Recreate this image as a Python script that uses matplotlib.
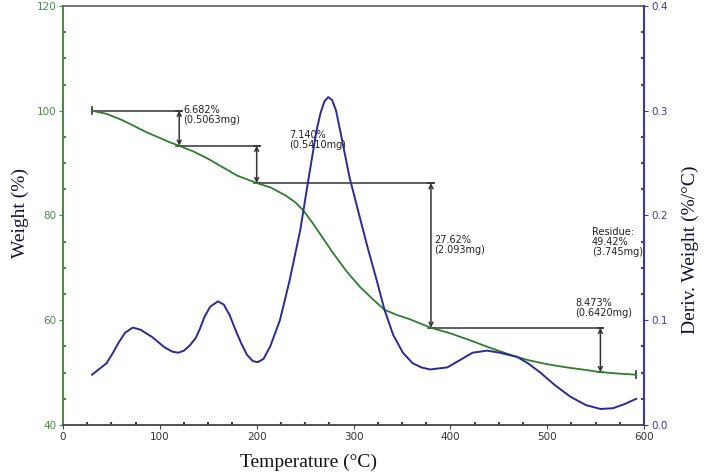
import matplotlib
matplotlib.use("Agg")
import matplotlib.pyplot as plt
from matplotlib.ticker import MultipleLocator, FormatStrFormatter

# ---- data ----
temp_w = [30, 45, 60, 70, 85, 100, 110, 120, 135, 150, 165, 180, 190, 200, 215, 230, 240, 248,
          258, 268, 279, 293, 307, 320, 332, 345, 358, 370, 380, 400, 420, 440, 462, 480, 500,
          520, 540, 555, 575, 592]
weight = [100.0, 99.4, 98.3, 97.4, 96.0, 94.8, 94.0, 93.3, 92.2, 90.8, 89.2, 87.6, 86.9, 86.2,
          85.3, 83.8, 82.5, 81.0, 78.5, 75.8, 72.8, 69.3, 66.3, 64.0, 62.0, 61.0, 60.2, 59.3,
          58.56, 57.5, 56.2, 54.8, 53.4, 52.4, 51.6, 51.0, 50.5, 50.09, 49.8, 49.6]

temp_d = [30, 45, 51, 57, 64, 72, 80, 92, 105, 113, 119, 125, 131, 137, 141, 146, 152, 160, 166,
          172, 178, 184, 190, 196, 201, 207, 214, 224, 234, 245, 253, 262, 266, 270, 274, 278,
          282, 286, 291, 296, 306, 315, 324, 332, 341, 351, 361, 370, 379, 397, 410, 423, 438,
          451, 469, 480, 493, 508, 524, 540, 555, 568, 580, 592]
deriv = [0.048, 0.059, 0.068, 0.078, 0.088, 0.093, 0.091, 0.084, 0.074, 0.070, 0.069, 0.071,
         0.076, 0.083, 0.091, 0.103, 0.113, 0.118, 0.115, 0.105, 0.091, 0.078, 0.067, 0.061,
         0.060, 0.063, 0.075, 0.100, 0.138, 0.186, 0.232, 0.282, 0.298, 0.309, 0.313, 0.310,
         0.300, 0.282, 0.259, 0.236, 0.200, 0.168, 0.138, 0.110, 0.086, 0.069, 0.059, 0.055,
         0.053, 0.055, 0.062, 0.069, 0.071, 0.069, 0.065, 0.059, 0.050, 0.038, 0.027, 0.019,
         0.0153, 0.016, 0.020, 0.025]

# step annotations
step_start = [30, 120, 200, 380]
step_end = [120, 200, 380, 555]
step_top = [100.0, 93.32, 86.18, 58.56]
step_bottom = [93.32, 86.18, 58.56, 50.09]
step_labels = ["6.682%\n(0.5063mg)", "7.140%\n(0.5410mg)", "27.62%\n(2.093mg)", "8.473%\n(0.6420mg)"]
residue_label = "Residue:\n49.42%\n(3.745mg)"

green = "#2f7d2f"
blue = "#2a2a9a"
axis_green = "#4a8a4a"
axis_blue = "#3a3aa0"

fig = plt.figure(figsize=(7.09, 4.74), dpi=100)
ax = fig.add_axes([0.0889, 0.1034, 0.8194, 0.8840])
ax2 = ax.twinx()

ax.plot(temp_w, weight, color=green, lw=1.3, zorder=3)
ax2.plot(temp_d, deriv, color=blue, lw=1.4, zorder=3)

ax.set_xlim(0, 600)
ax.set_ylim(40, 120)
ax2.set_ylim(0, 0.4)

# annotations
lc = "#333333"
ax.plot([step_start[0]] * 2, [step_top[0] - 0.7, step_top[0] + 0.7], color=lc, lw=1.2)
ax.plot([temp_w[-1]] * 2, [weight[-1] - 0.7, weight[-1] + 0.7], color=lc, lw=1.2)
offsets = [(4, 1.0), (34, 3.0), (3, -10.0), (-26, 5.7)]
for s, e, t, b, lab, off in zip(step_start, step_end, step_top, step_bottom, step_labels, offsets):
    ax.plot([s, e + 3], [t, t], color=lc, lw=1.1, zorder=2)
    ax.annotate("", xy=(e, b), xytext=(e, t),
                arrowprops=dict(arrowstyle="<->", color=lc, lw=1.1,
                                shrinkA=0, shrinkB=0, mutation_scale=7))
    ax.plot([e - 3, e + 3], [t, t], color=lc, lw=1.1)
    ax.plot([e - 3, e + 3], [b, b], color=lc, lw=1.1)
    ax.text(e + off[0], t + off[1], lab, fontsize=7, color="#222222", va="top", ha="left",
            linespacing=1.0)
ax.text(546, 77.8, residue_label, fontsize=7, color="#222222", va="top", ha="left",
        linespacing=1.0)

# spines & ticks
ax.spines["left"].set_color(axis_green)
ax.spines["left"].set_linewidth(1.5)
ax.spines["bottom"].set_color("#444444")
ax.spines["top"].set_color("#666666")
ax.spines["bottom"].set_linewidth(1.3)
ax.spines["top"].set_linewidth(1.3)
for sp in ["left", "bottom", "top"]:
    ax2.spines[sp].set_visible(False)
ax2.spines["right"].set_color(axis_blue)
ax2.spines["right"].set_linewidth(1.5)
ax.spines["right"].set_visible(False)

ax.xaxis.set_major_locator(MultipleLocator(100))
ax.xaxis.set_minor_locator(MultipleLocator(25))
ax.yaxis.set_major_locator(MultipleLocator(20))
ax.yaxis.set_minor_locator(MultipleLocator(5))
ax2.yaxis.set_major_locator(MultipleLocator(0.1))
ax2.yaxis.set_minor_locator(MultipleLocator(0.025))

ax.tick_params(axis="x", which="major", direction="out", length=3, color="#444444",
               labelsize=7.5, labelcolor="#333333", pad=2)
ax.tick_params(axis="x", which="minor", direction="in", length=2, width=1.5, color="#444444")
ax.tick_params(axis="y", which="major", direction="out", length=3, color=axis_green,
               labelsize=7.5, labelcolor=axis_green, pad=2)
ax.tick_params(axis="y", which="minor", direction="in", length=2, width=1.5, color=axis_green)
ax2.tick_params(axis="y", which="major", direction="out", length=3, color=axis_blue,
                labelsize=7.5, labelcolor=axis_blue, pad=2)
ax2.tick_params(axis="y", which="minor", direction="in", length=2, width=1.5, color=axis_blue)
ax.yaxis.set_major_formatter(FormatStrFormatter("%d"))
ax2.yaxis.set_major_formatter(FormatStrFormatter("%.1f"))

serif = "Liberation Serif"
fig.text(308 / 709, 1 - 462 / 474, "Temperature (°C)", family=serif, fontsize=14,
         ha="center", va="center", color="#111111")
fig.text(20 / 709, 1 - 213 / 474, "Weight (%)", family=serif, fontsize=14,
         ha="center", va="center", rotation=90, color="#111133")
fig.text(690 / 709, 1 - 250 / 474, "Deriv. Weight (%/°C)", family=serif, fontsize=14,
         ha="center", va="center", rotation=90, color="#111133")

fig.savefig("out.png", dpi=100)
